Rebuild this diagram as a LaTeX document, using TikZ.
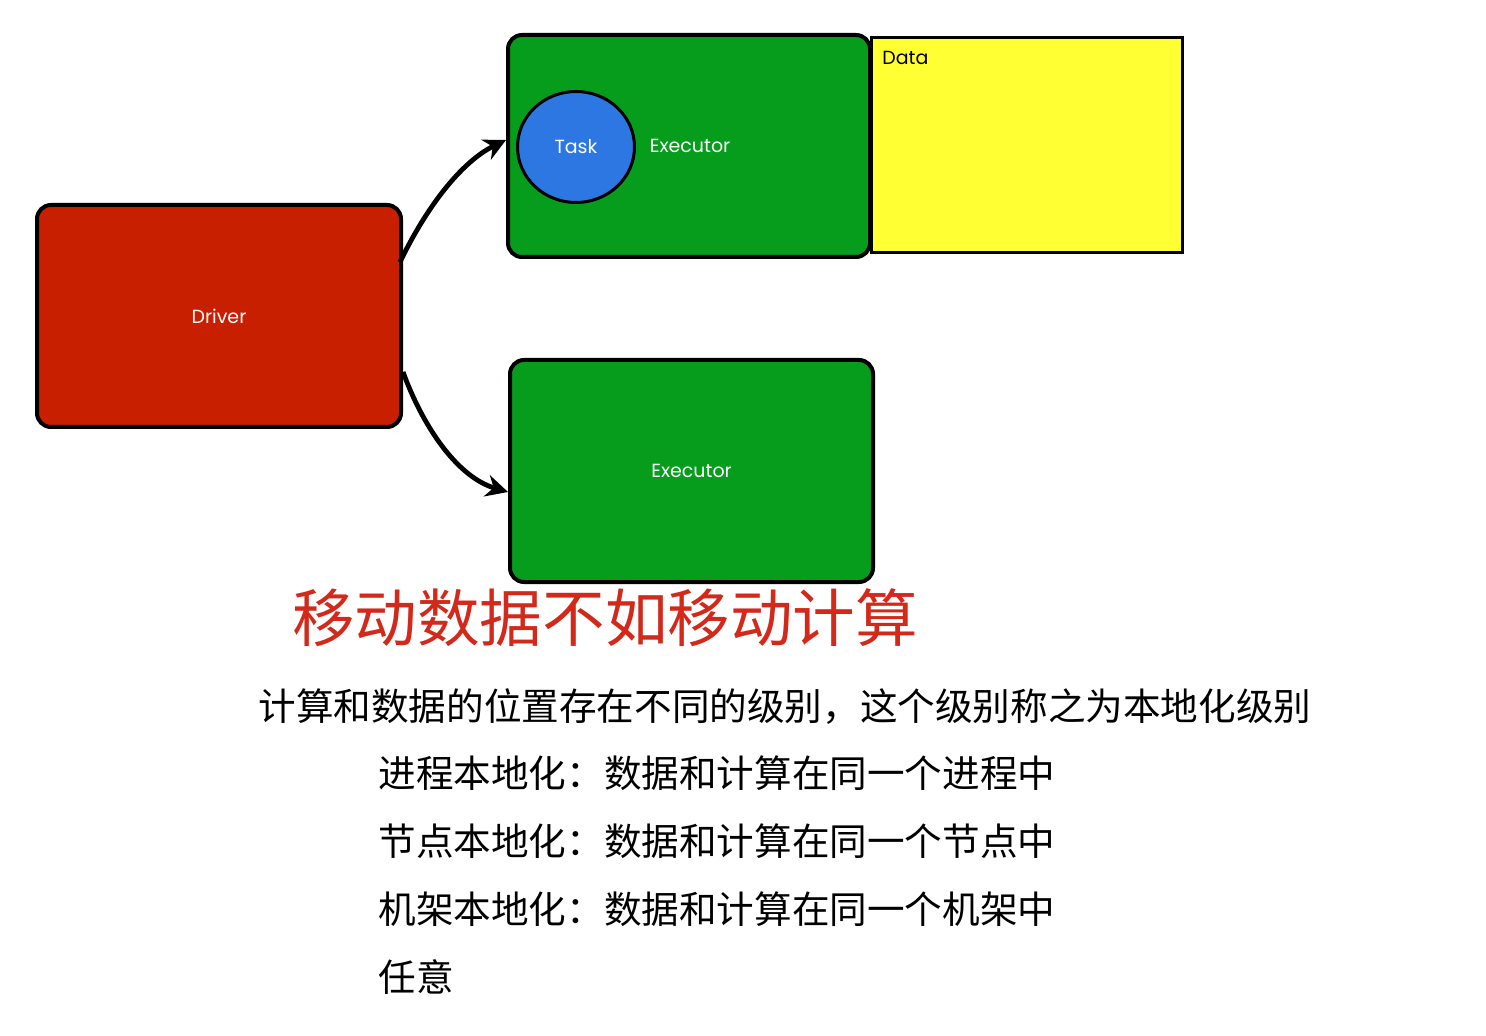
\documentclass[tikz,border=0pt]{standalone}
\usepackage{fontspec}
\setmainfont{Poppins}
\newfontfamily\cjk{Noto Sans CJK SC}
\usetikzlibrary{shapes.geometric,arrows.meta}
\definecolor{drvred}{HTML}{C81F00}
\definecolor{exgreen}{HTML}{069D1C}
\definecolor{taskblue}{HTML}{2C77E2}
\definecolor{datayel}{HTML}{FFFF33}
\definecolor{titlered}{HTML}{D2291B}
\tikzset{
  boxnode/.style={draw=black, line width=2pt, rounded corners=7pt, minimum width=181pt, minimum height=111pt, inner sep=0pt, text=white, font=\fontsize{9.5}{11}\selectfont},
  flowarrow/.style={line width=2.4pt, -{Stealth[length=11pt,width=11pt]}},
  bodytext/.style={anchor=west, inner sep=0pt, font=\cjk\fontsize{18.8}{22}\selectfont},
}
\begin{document}
\begin{tikzpicture}[x=0.5pt,y=-0.5pt]
\useasboundingbox (0,0) rectangle (1486,1036);
\node[boxnode, fill=drvred, minimum width=182pt] (drv) at (219,316) {Driver};
\node[boxnode, fill=exgreen] (ex1) at (689,146) {\hspace*{1pt}Executor};
\node[boxnode, fill=exgreen, minimum width=181.5pt] (ex2) at (691.5,471) {Executor};
\node[draw=black, line width=1.5pt, fill=taskblue, ellipse, minimum width=58.5pt, minimum height=55.5pt, inner sep=0pt, text=white, font=\fontsize{9.5}{11}\selectfont] (task) at (576,147) {Task};
\node[draw=black, line width=1.5pt, fill=datayel, minimum width=155.5pt, minimum height=107.5pt, inner sep=0pt] (data) at (1026.5,145.5) {};
\node[anchor=west, inner sep=0pt, font=\fontsize{9.5}{11}\selectfont] (datalbl) at (882,58) {Data};
\draw[flowarrow] ([yshift=27pt,xshift=-1.5pt]drv.east) .. controls (430,200) and (465,160) .. ([yshift=3pt]ex1.west);
\draw[flowarrow] ([yshift=-28pt]drv.east) .. controls (425,432) and (460,478) .. ([yshift=-10.5pt]ex2.west);
\node[inner sep=0pt, text=titlered, font=\cjk\fontsize{31.3}{36}\selectfont] (title) at (605,618) {移动数据不如移动计算};
\node[bodytext] (l1) at (258,707) {计算和数据的位置存在不同的级别，这个级别称之为本地化级别};
\node[bodytext] (l2) at (378,773) {进程本地化：数据和计算在同一个进程中};
\node[bodytext] (l3) at (378,841) {节点本地化：数据和计算在同一个节点中};
\node[bodytext] (l4) at (378,909) {机架本地化：数据和计算在同一个机架中};
\node[bodytext] (l5) at (378,977) {任意};
\end{tikzpicture}
\end{document}
